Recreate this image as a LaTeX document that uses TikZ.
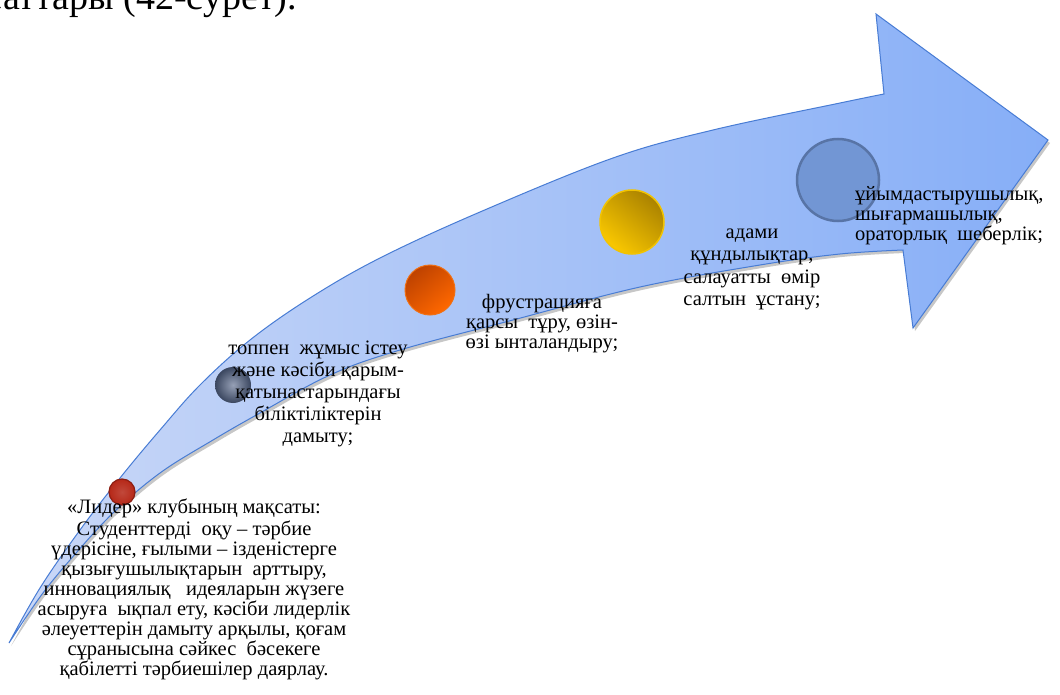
\documentclass[tikz,border=0pt]{standalone}
\usepackage{fontspec}
\setmainfont{Liberation Serif}
\definecolor{bandLeft}{RGB}{202,216,247}
\definecolor{bandRight}{RGB}{134,174,247}
\definecolor{bandEdge}{RGB}{72,124,212}
\definecolor{redDot}{RGB}{182,40,24}
\definecolor{redRim}{RGB}{140,30,18}
\definecolor{grayIn}{RGB}{150,160,182}
\definecolor{grayOut}{RGB}{58,70,95}
\definecolor{orangeDark}{RGB}{190,66,0}
\definecolor{orangeLight}{RGB}{255,104,0}
\definecolor{orangeRim}{RGB}{240,112,20}
\definecolor{goldDark}{RGB}{170,130,0}
\definecolor{goldLight}{RGB}{250,200,0}
\definecolor{goldRim}{RGB}{242,195,0}
\definecolor{blueDot}{RGB}{114,150,212}
\definecolor{blueRim}{RGB}{88,116,166}
\def\bandoutline{plot[smooth,tension=0.6] coordinates {(9,643) (40,588) (80,530) (120,478) (160,430) (200,385) (250,340) (310,298) (380,258) (480,212) (613,158) (713,130) (840,103) (884,94)}
  -- (876,14) -- (1048,140) -- (913,328) -- (903,250)
  -- plot[smooth,tension=0.6] coordinates {(903,250) (840,254) (760,265) (640,287) (513,320) (400,350) (330,375) (260,413) (213,440) (160,473) (113,513) (70,560) (40,597) (9,643)} -- cycle}
\begin{document}
\begin{tikzpicture}[x=1pt,y=-1pt,
  blurb/.style={inner sep=0pt, align=center, text=black},
  dot/.style={circle, inner sep=0pt},
  dotred/.style={dot, minimum size=26pt, inner color=redDot!85!white, outer color=redDot, draw=redRim, line width=1.2pt},
  dotgray/.style={dot, minimum size=36pt, inner color=grayIn, outer color=grayOut},
  dotorange/.style={dot, minimum size=50pt, top color=orangeDark, bottom color=orangeLight, shading angle=40, draw=orangeRim, line width=1pt},
  dotgold/.style={dot, minimum size=64pt, top color=goldDark, bottom color=goldLight, shading angle=-40, draw=goldRim, line width=1.5pt},
  dotblue/.style={dot, minimum size=82pt, fill=blueDot, draw=blueRim, line width=2.5pt},
]
\useasboundingbox (0,0) rectangle (1060,695);
\clip (0,0) rectangle (1060,695);
\fill[white] (0,0) rectangle (1060,695);

% line of body text above the figure
\node[anchor=base east, inner sep=0pt, font=\fontsize{38pt}{42pt}\selectfont] (caption) at (297,10) {мақсаттары (42-сурет).};

% curved arrow with its soft shadow
\fill[black, opacity=0.22, shift={(2,3)}] \bandoutline;
\shade[left color=bandLeft, right color=bandRight] \bandoutline;
\draw[bandEdge, line width=1pt, line join=miter] \bandoutline;

% stage markers
\node[dotred] (m1) at (122,492) {};
\node[dotgray] (m2) at (233,385) {};
\node[dotorange] (m3) at (430,290) {};
\node[dotgold] (m4) at (632,222) {};
\node[dotblue] (m5) at (838,180) {};

% stage texts
\node[blurb, anchor=north, font=\fontsize{20.5pt}{20pt}\selectfont] (s1) at (194,498.5) {\strut«Лидер» клубының мақсаты:\\
Студенттерді\ \ оқу – тәрбие\\
үдерісіне, ғылыми – ізденістерге\\
қызығушылықтарын\ \ арттыру,\\
инновациялық\ \ \ идеяларын жүзеге\\
асыруға\ \ ықпал ету, кәсіби лидерлік\\
әлеуеттерін дамыту арқылы, қоғам\\
сұранысына сәйкес\ \ бәсекеге\\
қабілетті тәрбиешілер даярлау.};

\node[blurb, anchor=north, font=\fontsize{20.5pt}{22pt}\selectfont] (s2) at (318,339.3) {\strut топпен\ \ жұмыс істеу\\
және кәсіби қарым-\\
қатынастарындағы\\
біліктіліктерін\\
дамыту;};

\node[blurb, anchor=north, font=\fontsize{20.5pt}{20pt}\selectfont] (s3) at (542,293.7) {\strut фрустрацияға\\
қарсы\ \ тұру, өзін-\\
өзі ынталандыру;};

\node[blurb, anchor=north, font=\fontsize{20.5pt}{22.5pt}\selectfont] (s4) at (752,222.3) {\strut адами\\
құндылықтар,\\
салауатты\ \ өмір\\
салтын\ \ ұстану;};

\node[blurb, align=left, anchor=north west, font=\fontsize{20.5pt}{20pt}\selectfont] (s5) at (855,186.7) {\strut ұйымдастырушылық,\\
шығармашылық,\\
ораторлық\ \ шеберлік;};
\end{tikzpicture}
\end{document}
